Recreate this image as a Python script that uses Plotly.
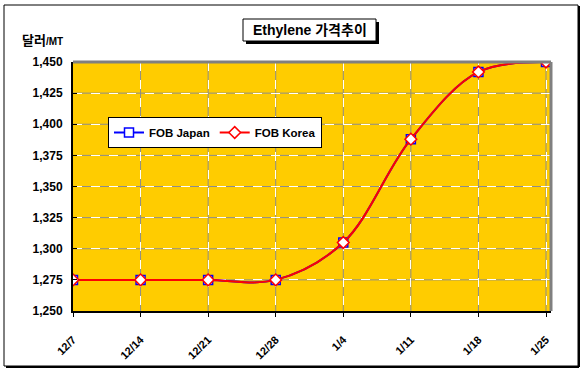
import plotly.graph_objects as go

dates = ["12/7", "12/14", "12/21", "12/28", "1/4", "1/11", "1/18", "1/25"]
fob_japan = [1275, 1275, 1275, 1275, 1305, 1388, 1442, 1450]
fob_korea = [1275, 1275, 1275, 1275, 1305, 1388, 1442, 1450]
y_ticks = [1250, 1275, 1300, 1325, 1350, 1375, 1400, 1425, 1450]
y_tick_labels = [f"{v:,}" for v in y_ticks]

W, H = 584, 371
L, R, T, B = 73, 551, 62, 311
FONT = "Arial, Liberation Sans, Noto Sans CJK KR, sans-serif"


def px(x):
    return (x - L) / (R - L)


def py(y):
    return (B - y) / (B - T)


xi = list(range(len(dates)))

fig = go.Figure()
fig.add_trace(go.Scatter(
    x=xi, y=fob_japan, name="FOB Japan", mode="lines+markers",
    line=dict(color="#0000ff", width=2, shape="spline", smoothing=1),
    marker=dict(symbol="square", size=9, color="white", line=dict(color="#0000ff", width=1.5)),
))
fig.add_trace(go.Scatter(
    x=xi, y=fob_korea, name="FOB Korea", mode="lines+markers",
    line=dict(color="#ff0000", width=2, shape="spline", smoothing=1),
    marker=dict(symbol="diamond", size=9, color="white", line=dict(color="#ff0000", width=1.5)),
))

shapes = [
    # outer chart border with shadow
    dict(type="line", xref="paper", yref="paper", x0=px(579), x1=px(579), y0=py(6), y1=py(367),
         line=dict(color="black", width=2), layer="below"),
    dict(type="line", xref="paper", yref="paper", x0=px(6), x1=px(579), y0=py(367), y1=py(367),
         line=dict(color="black", width=2), layer="below"),
    dict(type="rect", xref="paper", yref="paper", x0=px(4), x1=px(578), y0=py(5), y1=py(366),
         line=dict(color="black", width=1), layer="below"),
    # title box with shadow
    dict(type="rect", xref="paper", yref="paper", x0=px(246), x1=px(379), y0=py(22), y1=py(44),
         line=dict(width=0), fillcolor="black", layer="above"),
    dict(type="rect", xref="paper", yref="paper", x0=px(243), x1=px(376), y0=py(19), y1=py(41),
         line=dict(color="black", width=1), fillcolor="white", layer="above"),
    # plot area top/right gray border
    dict(type="line", xref="paper", yref="paper", x0=0, x1=1, y0=1, y1=1,
         line=dict(color="#808080", width=3), layer="above"),
    dict(type="line", xref="paper", yref="paper", x0=1, x1=1, y0=0, y1=1,
         line=dict(color="#808080", width=3), layer="above"),
]
# gray underlay for the white dashed gridlines
for v in y_ticks[1:]:
    shapes.append(dict(type="line", xref="paper", yref="y", x0=0, x1=1, y0=v, y1=v,
                       line=dict(color="#8c8c8c", width=1), layer="below"))
for i in xi[1:]:
    shapes.append(dict(type="line", xref="x", yref="paper", x0=i, x1=i, y0=0, y1=1,
                       line=dict(color="#8c8c8c", width=1), layer="below"))

annotations = [
    dict(xref="paper", yref="paper", x=px(309.5), y=py(30), text="<b>Ethylene 가격추이</b>",
         showarrow=False, font=dict(family=FONT, size=14, color="black"), xanchor="center", yanchor="middle"),
    dict(xref="paper", yref="paper", x=px(20), y=py(40),
         text="<b>달러</b><b><span style='font-size:10px'>/MT</span></b>",
         showarrow=False, font=dict(family=FONT, size=13, color="black"), xanchor="left", yanchor="middle"),
]

fig.update_layout(
    width=W, height=H, autosize=False,
    margin=dict(l=L, r=W - R, t=T, b=H - B, pad=0, autoexpand=False),
    paper_bgcolor="white", plot_bgcolor="#ffcc00",
    font=dict(family=FONT, color="black"),
    shapes=shapes, annotations=annotations,
    showlegend=True,
    legend=dict(
        orientation="h", x=px(108), y=py(117), xanchor="left", yanchor="top",
        bgcolor="white", bordercolor="black", borderwidth=1,
        font=dict(family=FONT, size=11.5, color="black", weight="bold"),
        itemwidth=30, tracegroupgap=0,
    ),
    xaxis=dict(
        tickmode="array", tickvals=xi, ticktext=dates,
        range=[0, (R - L) / ((546 - L) / 7)], automargin=False,
        tickangle=-45, tickfont=dict(family=FONT, size=11, weight="bold"),
        ticklabelstandoff=12,
        showgrid=True, gridcolor="white", griddash="dash", gridwidth=1,
        showline=True, linecolor="black", linewidth=2,
        ticks="outside", ticklen=4, tickcolor="black",
        zeroline=False,
    ),
    yaxis=dict(
        range=[1250, 1450], tickmode="array", tickvals=y_ticks, ticktext=y_tick_labels,
        automargin=False, ticklabelstandoff=6,
        tickfont=dict(family=FONT, size=12, weight="bold"),
        showgrid=True, gridcolor="white", griddash="dash", gridwidth=1,
        showline=True, linecolor="black", linewidth=2,
        ticks="inside", ticklen=4, tickcolor="black",
        zeroline=False,
    ),
)

fig.write_html(
    "out.html",
    config={"displayModeBar": False},
    post_script="document.body.style.margin='0';document.body.style.overflow='hidden';",
)
